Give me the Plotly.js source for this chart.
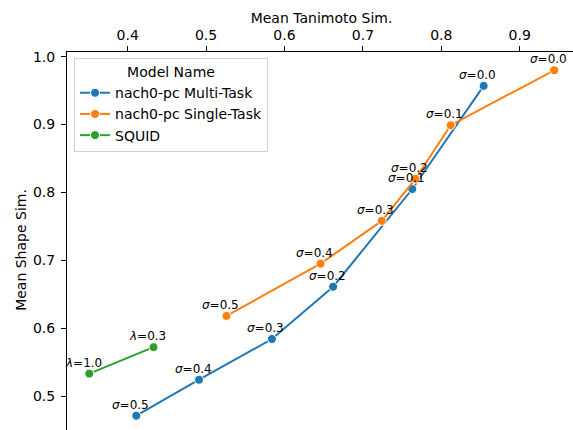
<!DOCTYPE html>
<html>
<head>
<meta charset="utf-8">
<script src="https://cdn.plot.ly/plotly-3.0.1.min.js"></script>
<style>
html, body { margin: 0; padding: 0; overflow: hidden; background: #fff; }
#chart { width: 576px; height: 448px; }
</style>
</head>
<body>
<div id="chart"></div>
<script>
// ---- data ----
const seriesNames = ["nach0-pc Multi-Task", "nach0-pc Single-Task", "SQUID"];
const seriesColors = ["#1f77b4", "#ff7f0e", "#2ca02c"];

const multiTanimoto = [0.854, 0.763, 0.662, 0.584, 0.491, 0.411];
const multiShape    = [0.957, 0.805, 0.661, 0.584, 0.524, 0.471];
const multiLabels   = ["<i>σ</i>=0.0", "<i>σ</i>=0.1", "<i>σ</i>=0.2", "<i>σ</i>=0.3", "<i>σ</i>=0.4", "<i>σ</i>=0.5"];

const singleTanimoto = [0.944, 0.812, 0.767, 0.724, 0.646, 0.526];
const singleShape    = [0.980, 0.899, 0.820, 0.758, 0.695, 0.618];
const singleLabels   = ["<i>σ</i>=0.0", "<i>σ</i>=0.1", "<i>σ</i>=0.2", "<i>σ</i>=0.3", "<i>σ</i>=0.4", "<i>σ</i>=0.5"];

const squidTanimoto = [0.351, 0.433];
const squidShape    = [0.533, 0.572];
const squidLabels   = ["<i>λ</i>=1.0", "<i>λ</i>=0.3"];

const xTicks = [0.4, 0.5, 0.6, 0.7, 0.8, 0.9];
const yTicks = [0.5, 0.6, 0.7, 0.8, 0.9, 1.0];

// ---- build ----
const FONT = "DejaVu Sans, sans-serif";
const allX = [multiTanimoto, singleTanimoto, squidTanimoto];
const allY = [multiShape, singleShape, squidShape];
const allL = [multiLabels, singleLabels, squidLabels];

const traces = seriesNames.map((name, i) => ({
  type: "scatter",
  mode: "lines+markers",
  name: name,
  x: allX[i],
  y: allY[i],
  line: { color: seriesColors[i], width: 2 },
  marker: { color: seriesColors[i], size: 9, line: { color: "#ffffff", width: 1 } },
  cliponaxis: false
}));

const annotations = [];
allX.forEach((xs, i) => {
  xs.forEach((xv, j) => {
    annotations.push({
      x: xv, y: allY[i][j], xref: "x", yref: "y",
      text: allL[i][j], showarrow: false,
      xanchor: "center", yanchor: "middle",
      xshift: -6, yshift: 11,
      font: { family: FONT, size: 12, color: "#000" }
    });
  });
});

const layout = {
  width: 576, height: 448,
  margin: { l: 67, r: 0, t: 52, b: 0, pad: 0 },
  paper_bgcolor: "#fff", plot_bgcolor: "#fff",
  font: { family: FONT, size: 14, color: "#000" },
  showlegend: true,
  legend: {
    x: 0.0138, y: 0.985, xanchor: "left", yanchor: "top",
    bgcolor: "rgba(255,255,255,0.8)", bordercolor: "#d0d0d0", borderwidth: 1,
    font: { family: FONT, size: 14, color: "#000" },
    title: { text: "Model Name", side: "top center", font: { family: FONT, size: 14 } },
    itemwidth: 30,
    tracegroupgap: 0
  },
  xaxis: {
    side: "top", range: [0.3226, 0.9718],
    tickvals: xTicks, ticktext: xTicks.map(v => v.toFixed(1)),
    ticks: "outside", ticklen: 5, tickwidth: 1, tickcolor: "#000",
    showline: true, linecolor: "#000", linewidth: 1, mirror: false,
    showgrid: false, zeroline: false, automargin: false,
    tickfont: { family: FONT, size: 14 },
    ticklabelstandoff: 0,
    title: { text: "Mean Tanimoto Sim.", font: { family: FONT, size: 14 }, standoff: 0 }
  },
  yaxis: {
    range: [0.4234, 1.0069],
    tickvals: yTicks, ticktext: yTicks.map(v => v.toFixed(1)),
    ticks: "outside", ticklen: 5, tickwidth: 1, tickcolor: "#000",
    showline: true, linecolor: "#000", linewidth: 1, mirror: false,
    showgrid: false, zeroline: false, automargin: false,
    tickfont: { family: FONT, size: 14 },
    ticklabelstandoff: 3,
    title: { text: "Mean Shape Sim.", font: { family: FONT, size: 14 }, standoff: 3 }
  },
  annotations: annotations
};

Plotly.newPlot("chart", traces, layout, { staticPlot: true, displayModeBar: false });
</script>
</body>
</html>
